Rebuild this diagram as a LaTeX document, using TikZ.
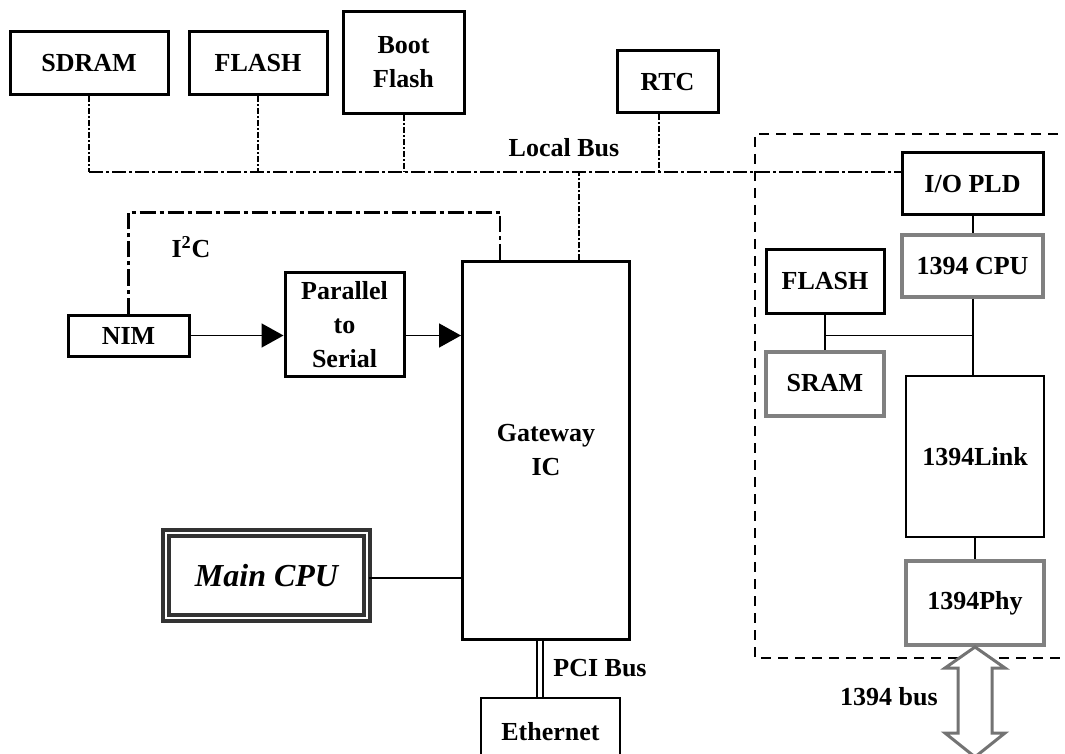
\documentclass[tikz,border=0pt]{standalone}
\usepackage{fontspec}
\setmainfont{Liberation Serif}
\usetikzlibrary{arrows.meta,positioning,calc}

\begin{document}
\begin{tikzpicture}[
  x=0.5pt,y=-0.5pt,
  font=\fontsize{13}{17}\selectfont\bfseries,
  box/.style={draw,line width=1.5pt,fill=white,align=center,inner sep=2pt},
  thinbox/.style={box,line width=1pt},
  greybox/.style={box,draw=black!50,line width=2pt},
  cpubox/.style={box,draw=black!80,line width=1.7pt,double=white,double distance=1.4pt,font=\fontsize{16}{18}\selectfont\bfseries\itshape},
  localbus/.style={line width=1pt,dash pattern=on 7pt off 1.5pt on 1.5pt off 1.5pt},
  busdrop/.style={line width=1pt,dash pattern=on 3pt off 1pt on 1pt off 1pt},
  i2c/.style={line width=1.2pt,dash pattern=on 8pt off 2pt on 2pt off 2pt},
  arr/.style={-{Triangle[length=11pt,width=12pt]},line width=0.8pt},
  wire/.style={line width=1pt},
  pcibus/.style={double,double distance=2.2pt,line width=0.7pt},
  frame/.style={line width=1pt,dash pattern=on 5pt off 3.5pt},
  busarrow/.style={draw=black!55,line width=1.5pt,fill=white,line join=miter},
]
\useasboundingbox (0,0) rectangle (1065,754);
\clip (0,0) rectangle (1065,754);

% 1394 sub-board frame
\draw[frame] (1075,134) -| (755,658) -- (1075,658);

% memories on the local bus
\node[box,minimum width=79pt,minimum height=31.5pt] (sdram) at (89,63.5) {SDRAM};
\node[box,minimum width=69pt,minimum height=31.5pt,right=9pt of sdram] (flash) {FLASH};
\node[box,minimum width=60.5pt,minimum height=51pt] (boot) at (403.5,62.5) {Boot\\Flash};
\node[box,minimum width=50.5pt,minimum height=31pt] (rtc) at (667.5,82) {RTC};

% 1394 side
\node[box,minimum width=70.5pt,minimum height=31pt] (iopld) at (972.5,184) {I/O PLD};
\node[greybox,minimum width=70.5pt,minimum height=30.5pt,below=8.5pt of iopld] (cpu1394) {1394 CPU};
\node[box,minimum width=59pt,minimum height=31.5pt] (flashR) at (825,281.5) {FLASH};
\node[greybox,minimum width=59pt,minimum height=32pt,below=17.5pt of flashR] (sramR) {SRAM};
\node[thinbox,minimum width=69pt,minimum height=80.5pt] (link) at (975,456.5) {1394Link};
\node[greybox,minimum width=69pt,minimum height=42pt,below=10.5pt of link] (phy) {1394Phy};

% main side
\node[box,minimum width=60.5pt,minimum height=20.5pt] (nim) at (128.5,335.5) {NIM};
\node[box,minimum width=59.5pt,minimum height=51.5pt] (p2s) at (344.5,324.5) {Parallel\\to\\Serial};
\node[box,minimum width=83.5pt,minimum height=188.5pt] (gw) at (546,450.5) {Gateway\\IC};
\node[cpubox,minimum width=100.5pt,minimum height=42.5pt] (cpu) at (266.5,575.5) {Main CPU};
\node[thinbox,minimum width=69.5pt,minimum height=34pt] (eth) at (550.5,732) {Ethernet};

% local bus
\coordinate (busend) at ($(iopld.west)+(0,-12)$);
\draw[localbus] (sdram.south |- busend) -- (busend);
\draw[busdrop] (sdram.south) -- (sdram.south |- busend);
\draw[busdrop] (flash.south) -- (flash.south |- busend);
\draw[busdrop] (boot.south) -- (boot.south |- busend);
\draw[busdrop] ($(rtc.south)+(-9,0)$) -- ($(rtc.south |- busend)+(-9,0)$);
\draw[busdrop] ($(gw.north)+(33,0)$) -- ($(gw.north |- busend)+(33,0)$);
\node (lbus) at (564,148) {Local Bus};

% I2C
\draw[i2c] (nim.north) |- ($(gw.north west)+(39,-48)$) -- ($(gw.north west)+(39,0)$);
\node (i2clbl) at (191,247) {I\textsuperscript{2}C};

% data path
\draw[arr] (nim.east) -- (nim.east -| p2s.west);
\draw[arr] (nim.east -| p2s.east) -- (nim.east -| gw.west);
\draw[wire] ($(cpu.east)+(0,2.5)$) -- ($(cpu.east -| gw.west)+(0,2.5)$);

% PCI
\draw[pcibus] ($(gw.south)+(-6,0)$) -- ($(gw.south |- eth.north)+(-6,0)$);
\node (pcilbl) at (600,668) {PCI Bus};

% 1394 internals
\draw[wire] (iopld.south) -- (cpu1394.north);
\draw[wire] (cpu1394.south) -- (cpu1394.south |- link.north);
\draw[wire] (flashR.south) -- (sramR.north);
\coordinate (jn) at ($(flashR.south)!0.6!(sramR.north)$);
\draw[line width=0.7pt] (jn) -- (jn -| cpu1394.south);
\draw[wire] (link.south) -- (phy.north);

% 1394 bus
\draw[busarrow] (phy.south) -- ++(30,21) -- ++(-13,0) -- ++(0,65) -- ++(13,0)
  -- ++(-30,24) -- ++(-30,-24) -- ++(13,0) -- ++(0,-65) -- ++(-13,0) -- cycle;
\node (buslbl) at (889,697) {1394 bus};
\end{tikzpicture}
\end{document}
